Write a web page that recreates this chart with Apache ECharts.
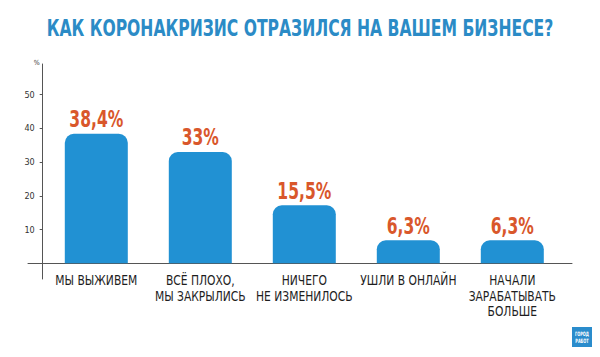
<!DOCTYPE html>
<html><head><meta charset="utf-8">
<script src="https://cdn.jsdelivr.net/npm/echarts@6/dist/echarts.min.js"></script>
<style>html,body{margin:0;padding:0;background:#fff}#c{width:600px;height:357px}</style>
</head><body><div id="c"></div>
<script>
const title = 'КАК КОРОНАКРИЗИС ОТРАЗИЛСЯ НА ВАШЕМ БИЗНЕСЕ?';
const categories = ['МЫ ВЫЖИВЕМ', 'ВСЁ ПЛОХО,\nМЫ ЗАКРЫЛИСЬ', 'НИЧЕГО\nНЕ ИЗМЕНИЛОСЬ', 'УШЛИ В ОНЛАЙН', 'НАЧАЛИ\nЗАРАБАТЫВАТЬ\nБОЛЬШЕ'];
const barHeights = [38.4, 33, 17.2, 6.8, 6.8];
const valueLabels = ['38,4%', '33%', '15,5%', '6,3%', '6,3%'];
const yTicks = [10, 20, 30, 40, 50];
const unitName = '%';
const logoText = 'ГОРОД\nРАБОТ';

const FF = '"DejaVu Sans Condensed","Liberation Sans Narrow",sans-serif';
const titleFont = 'bold 23.5px ' + FF;
const valueFont = 'bold 23px ' + FF;
const catFont = '14px ' + FF;

// horizontal condensing factors so the text widths match the reference
const mctx = document.createElement('canvas').getContext('2d');
function measure(font, txt) { mctx.font = font; return mctx.measureText(txt).width; }
const titleScale = 507 / measure(titleFont, title);
const valueScale = 54 / measure(valueFont, '38,4%');
const catScale = 82 / measure(catFont, 'МЫ ВЫЖИВЕМ');

const chart = echarts.init(document.getElementById('c'), null, {renderer: 'svg'});
const yMin = -4.66, yMax = 59.1;
chart.setOption({
  animation: false,
  backgroundColor: '#fff',
  grid: [
    {left: 28, right: 28, top: 64, bottom: 78},
    {left: 44.3, right: 35.7, top: 64, bottom: 78}
  ],
  xAxis: [
    {gridIndex: 0, type: 'value', min: 0, max: 1,
     axisLine: {show: true, onZero: true, lineStyle: {color: '#555', width: 1}},
     axisTick: {show: false}, axisLabel: {show: false}, splitLine: {show: false}},
    {gridIndex: 1, type: 'category', data: categories,
     axisLine: {show: false}, axisTick: {show: false}, axisLabel: {show: false}}
  ],
  yAxis: [
    {gridIndex: 0, type: 'value', min: yMin, max: yMax, show: false},
    {gridIndex: 1, type: 'value', min: yMin, max: yMax, offset: 1.6,
     name: unitName, nameLocation: 'end', nameGap: -2,
     nameTextStyle: {fontFamily: FF, fontSize: 7, color: '#333', align: 'right', padding: [0, 3, 0, 0]},
     axisLine: {show: true, onZero: false, lineStyle: {color: '#555', width: 1}},
     axisTick: {show: true, length: 3, customValues: yTicks, lineStyle: {color: '#555'}},
     axisLabel: {customValues: yTicks, margin: 8, fontFamily: FF, fontSize: 9, color: '#333'},
     splitLine: {show: false}}
  ],
  series: [
    {type: 'bar', xAxisIndex: 1, yAxisIndex: 1, data: barHeights, barWidth: 63,
     itemStyle: {color: '#2191d3', borderRadius: [9, 9, 0, 0]}},
    {type: 'custom', xAxisIndex: 1, yAxisIndex: 1, clip: false, silent: true,
     data: barHeights.map((v, i) => [i, v]),
     renderItem: function (params, api) {
       const p = api.coord([api.value(0), api.value(1)]);
       return {type: 'text', x: p[0], y: p[1] - 14.5, scaleX: valueScale,
         style: {text: valueLabels[params.dataIndex], font: valueFont, fill: '#d9572b', align: 'center', verticalAlign: 'middle'}};
     }},
    {type: 'custom', xAxisIndex: 1, yAxisIndex: 1, clip: false, silent: true,
     data: categories.map((c, i) => [i, 0]),
     renderItem: function (params, api) {
       const p = api.coord([api.value(0), 0]);
       return {type: 'text', x: p[0], y: p[1] + 9.5, scaleX: catScale,
         style: {text: categories[params.dataIndex], font: catFont, lineHeight: 15.5, fill: '#1e1e1e', align: 'center', verticalAlign: 'top'}};
     }},
    {type: 'line', xAxisIndex: 0, yAxisIndex: 0, data: [], silent: true}
  ],
  graphic: [
    {type: 'text', x: 300, y: 28.5, scaleX: titleScale,
     style: {text: title, font: titleFont, fill: '#2b8bc6', align: 'center', verticalAlign: 'middle'}},
    {type: 'rect', x: 572, y: 327, shape: {width: 20, height: 20}, style: {fill: '#2a8ccc'}},
    {type: 'text', x: 582, y: 337.5, scaleX: 0.65,
     style: {text: logoText, font: 'bold 6px ' + FF, lineHeight: 7, fill: '#fff', align: 'center', verticalAlign: 'middle'}}
  ]
});
</script></body></html>
